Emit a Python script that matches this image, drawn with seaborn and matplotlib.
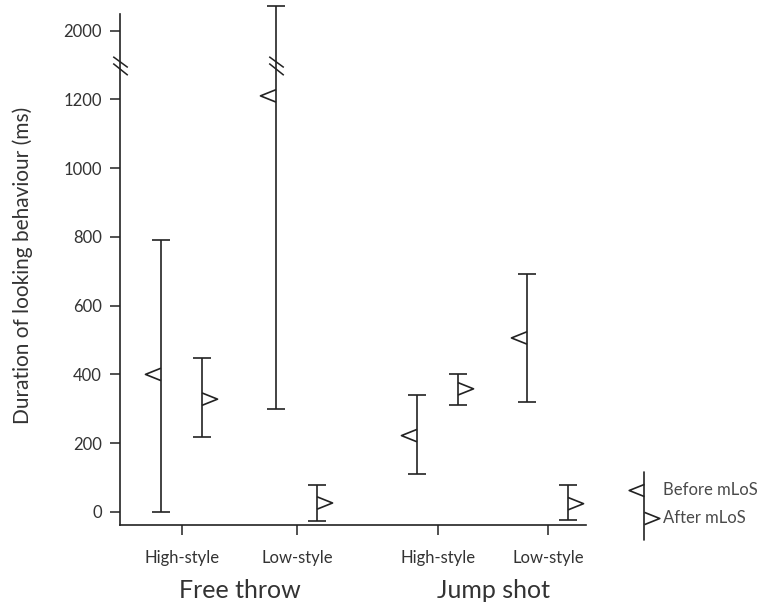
import matplotlib.pyplot as plt
import seaborn as sns
import numpy as np
import pandas as pd
from matplotlib.path import Path

# looking behaviour around the moment of line of sight (ms)
styles = ['High-style', 'Low-style', 'High-style', 'Low-style']
shots = ['Free throw', 'Jump shot']
before_mean = [400, 1210, 222, 506]
before_low = [0, 300, 110, 320]
before_high = [792, 2500, 340, 692]
after_mean = [328, 26, 358, 24]
after_low = [218, -27, 311, -23]
after_high = [449, 77, 402, 79]
yticks = [0, 200, 400, 600, 800, 1000, 1200, 2000]

BREAK = 1300
SQUEEZE = 7.0


def fwd(v):
    v = np.asarray(v, dtype=float)
    return np.where(v <= BREAK, v, BREAK + (v - BREAK) / SQUEEZE)


def inv(d):
    d = np.asarray(d, dtype=float)
    return np.where(d <= BREAK, d, BREAK + (d - BREAK) * SQUEEZE)


# open half-triangles sitting on the error bar line
left_tri = Path([(0, 0.6), (-1.5, 0), (0, -0.6)])
right_tri = Path([(0, 0.6), (1.5, 0), (0, -0.6)])
slash = Path([(-7.5, 9), (7.5, -2), (-7.5, 2), (7.5, -10)],
             [Path.MOVETO, Path.LINETO, Path.MOVETO, Path.LINETO])

sns.set_style('ticks')
plt.rcParams['font.family'] = ['Lato', 'DejaVu Sans']
ink = '#222222'
txt = '#333333'

xpos = np.array([0.62, 1.77, 3.18, 4.28])
xb = xpos - 0.21
xa = xpos + 0.20

fig = plt.figure(figsize=(7.76, 6.05), dpi=100)
ax = fig.add_axes([120 / 776, 80 / 605, 466 / 776, 520 / 605])
ax.set_yscale('function', functions=(fwd, inv))

for x, m, lo, hi in zip(xb, before_mean, before_low, before_high):
    ax.errorbar([x], [m], yerr=[[m - lo], [hi - m]], fmt='none', ecolor=ink,
                elinewidth=1.2, capsize=6.5, capthick=1.2, clip_on=False)
for x, m, lo, hi in zip(xa, after_mean, after_low, after_high):
    ax.errorbar([x], [m], yerr=[[m - lo], [hi - m]], fmt='none', ecolor=ink,
                elinewidth=1.2, capsize=6.5, capthick=1.2, clip_on=False)

df_b = pd.DataFrame({'x': xb, 'y': before_mean})
df_a = pd.DataFrame({'x': xa, 'y': after_mean})
sns.scatterplot(data=df_b, x='x', y='y', ax=ax, marker=left_tri, s=500,
                color=ink, facecolors='none', edgecolor=ink, linewidth=1.2,
                zorder=3, clip_on=False)
sns.scatterplot(data=df_a, x='x', y='y', ax=ax, marker=right_tri, s=500,
                color=ink, facecolors='none', edgecolor=ink, linewidth=1.2,
                zorder=3, clip_on=False)

ax.set_xlim(0, 4.66)
ax.set_ylim(-38, 2520)
ax.set_yticks(yticks)
ax.set_yticklabels([str(t) for t in yticks], fontsize=12, color=txt)
ax.set_xticks(xpos)
ax.set_xticklabels(styles, fontsize=12, color=txt)
ax.tick_params(axis='both', length=7, width=1.1, color=ink, pad=6)
ax.tick_params(axis='x', pad=11)
ax.set_xlabel('')
ax.set_ylabel('Duration of looking behaviour (ms)', fontsize=15, color=txt,
              labelpad=22)
sns.despine(ax=ax)
ax.spines['left'].set_bounds(-38, 2340)
for sp in ['left', 'bottom']:
    ax.spines[sp].set_color(ink)
    ax.spines[sp].set_linewidth(1.2)

# axis break marks
ax.plot([0, xb[1]], [BREAK, BREAK], linestyle='none', marker=slash,
        markersize=14, markeredgewidth=1.1, color=ink, clip_on=False, zorder=4)

# shot type labels under the style labels
for i, name in enumerate(shots):
    ax.text((xpos[2 * i] + xpos[2 * i + 1]) / 2, -0.125, name,
            transform=ax.get_xaxis_transform(), ha='center', va='center',
            fontsize=18, color=txt)

# legend
lg = fig.add_axes([600 / 776, 60 / 605, 160 / 776, 80 / 605])
lg.set_xlim(0, 160)
lg.set_ylim(0, 80)
lg.axis('off')
lg.plot([44, 44], [5, 73], color=ink, lw=1.2)
lg.plot([44], [55], marker=left_tri, markersize=22, mfc='none', mec=ink,
        mew=1.2, linestyle='none')
lg.plot([44], [27], marker=right_tri, markersize=22, mfc='none', mec=ink,
        mew=1.2, linestyle='none')
lg.text(63, 55, 'Before mLoS', va='center', fontsize=12, color='#4a4a4a')
lg.text(63, 27, 'After mLoS', va='center', fontsize=12, color='#4a4a4a')

fig.savefig('out.png', dpi=100)
